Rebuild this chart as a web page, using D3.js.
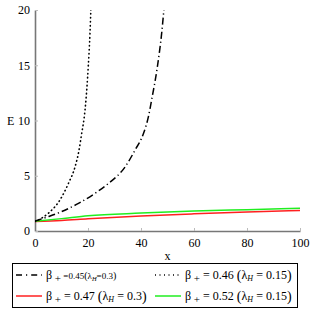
<!DOCTYPE html>
<html>
<head>
<meta charset="utf-8">
<script src="https://cdn.jsdelivr.net/npm/d3@7"></script>
<style>
  body { margin: 0; background: #fff; }
  svg text { font-family: "Liberation Serif", "DejaVu Serif", serif !important; }
</style>
</head>
<body>
<div class="chart"></div>
<script>
// values
const dashX = [0, 5, 10, 16.4, 22.6, 27.7, 34, 37.7, 40.9, 42.8, 44, 46.2, 47.8, 48.7];
const dashY = [0.9, 1.3, 1.75, 2.5, 3.4, 4.3, 5.8, 7.3, 8.8, 10.35, 11.85, 14.9, 17.9, 20.2];
const dotX = [0, 5, 9.4, 12.6, 15.1, 16.6, 17.6, 18.6, 19.1, 20.1, 20.75, 21.1];
const dotY = [0.85, 1.6, 2.8, 4.3, 5.8, 7.3, 8.8, 10.35, 11.5, 14.9, 17.9, 20.2];
const redX = [0, 10, 20, 40, 60, 80, 100];
const redY = [0.85, 0.95, 1.1, 1.35, 1.55, 1.72, 1.85];
const greenX = [0, 10, 20, 40, 60, 80, 100];
const greenY = [0.88, 1.12, 1.38, 1.62, 1.8, 1.93, 2.05];
const xTicks = [0, 20, 40, 60, 80, 100];
const yTicks = [0, 5, 10, 15, 20];

const margin = { top: 10, right: 12, bottom: 81, left: 35 };
const width = 312 - margin.left - margin.right;
const height = 312 - margin.top - margin.bottom;
const serif = '"Liberation Serif", "DejaVu Serif", serif';

const root = d3.select('.chart')
  .append('svg')
  .attr('width', 312)
  .attr('height', 312)
  .attr('font-family', serif);

const svg = root.append('g')
  .attr('transform', `translate(${margin.left}, ${margin.top})`);

const xScale = d3.scaleLinear().domain([0, 100]).range([0, width]);
const yScale = d3.scaleLinear().domain([0, 20]).range([height, 0]);

svg.append('clipPath').attr('id', 'clip')
  .append('rect').attr('x', 0).attr('y', 0).attr('width', width + 2).attr('height', height);

// axes
const xAxis = d3.axisBottom(xScale).tickValues(xTicks).tickSize(0).tickPadding(7);
const yAxis = d3.axisLeft(yScale).tickValues(yTicks).tickSize(0).tickPadding(5);

const gx = svg.append('g').attr('transform', `translate(0, ${height})`).call(xAxis);
const gy = svg.append('g').call(yAxis);
[gx, gy].forEach(g => {
  g.attr('font-family', serif);
  g.select('.domain').attr('stroke', '#777').attr('stroke-width', 1.6);
  g.selectAll('text').attr('font-size', 12).attr('fill', '#000');
});
// small inner ticks
gx.selectAll('.tick').append('line').attr('y1', 0).attr('y2', -3).attr('stroke', '#bbb');
gy.selectAll('.tick').append('line').attr('x1', 0).attr('x2', 3).attr('stroke', '#bbb');

svg.append('text').attr('x', width / 2).attr('y', height + 29)
  .attr('text-anchor', 'middle').attr('font-size', 12).text('x');
svg.append('text').attr('x', -28).attr('y', yScale(10) + 4)
  .attr('font-size', 12).text('E');

const line = d3.line()
  .x(d => xScale(d[0]))
  .y(d => yScale(d[1]))
  .curve(d3.curveMonotoneX);

const series = [
  { xs: redX, ys: redY, color: '#ff2020', dash: null, w: 1.5 },
  { xs: greenX, ys: greenY, color: '#20ee20', dash: null, w: 1.5 },
  { xs: dotX, ys: dotY, color: '#000', dash: '0.5,3.5', w: 1.6 },
  { xs: dashX, ys: dashY, color: '#000', dash: '7,3,1.2,3', w: 1.5 }
];

const plot = svg.append('g').attr('clip-path', 'url(#clip)');
series.forEach(s => {
  plot.append('path')
    .datum(s.xs.map((x, i) => [x, s.ys[i]]))
    .attr('d', line)
    .attr('fill', 'none')
    .attr('stroke', s.color)
    .attr('stroke-width', s.w)
    .attr('stroke-linecap', s.dash === '0.5,3.5' ? 'round' : 'butt')
    .attr('stroke-dasharray', s.dash);
});

// legend
const leg = root.append('g');
leg.append('rect').attr('x', 12.5).attr('y', 263.5).attr('width', 285).attr('height', 44)
  .attr('fill', 'none').attr('stroke', '#000').attr('stroke-width', 1);

const items = [
  { x: 16, y: 275, color: '#000', dash: '6,4,1.2,4', num: '0.45', lam: '0.3', small: true },
  { x: 155, y: 275, color: '#000', dash: '1,3.5', num: '0.46', lam: '0.15' },
  { x: 16, y: 296, color: '#ff2020', dash: null, num: '0.47', lam: '0.3' },
  { x: 155, y: 296, color: '#20ee20', dash: null, num: '0.52', lam: '0.15' }
];

items.forEach(it => {
  leg.append('line')
    .attr('x1', it.x).attr('x2', it.x + 26).attr('y1', it.y).attr('y2', it.y)
    .attr('stroke', it.color).attr('stroke-width', 1.5)
    .attr('stroke-dasharray', it.dash);
  const fs = it.small ? 9 : 12;
  const t = leg.append('text').attr('x', it.x + 30).attr('y', it.y + 4).attr('font-size', 12);
  t.append('tspan').text('β');
  t.append('tspan').attr('dy', 3).attr('font-size', 11).text(' +');
  t.append('tspan').attr('dy', -3).attr('font-size', fs)
    .text(it.small ? ` =${it.num}` : ` = ${it.num} `);
  t.append('tspan').attr('font-size', it.small ? 10 : 14).attr('dy', it.small ? 0 : 1).text('(');
  t.append('tspan').attr('dy', it.small ? 0 : -1).attr('font-size', fs).text('λ');
  t.append('tspan').attr('dy', 2).attr('font-size', it.small ? 6.5 : 8).attr('font-style', 'italic').text('H');
  t.append('tspan').attr('dy', -2).attr('font-size', fs).text(it.small ? `=${it.lam}` : ` = ${it.lam}`);
  t.append('tspan').attr('font-size', it.small ? 10 : 14).attr('dy', it.small ? 0 : 1).text(')');
});
</script>
</body>
</html>
